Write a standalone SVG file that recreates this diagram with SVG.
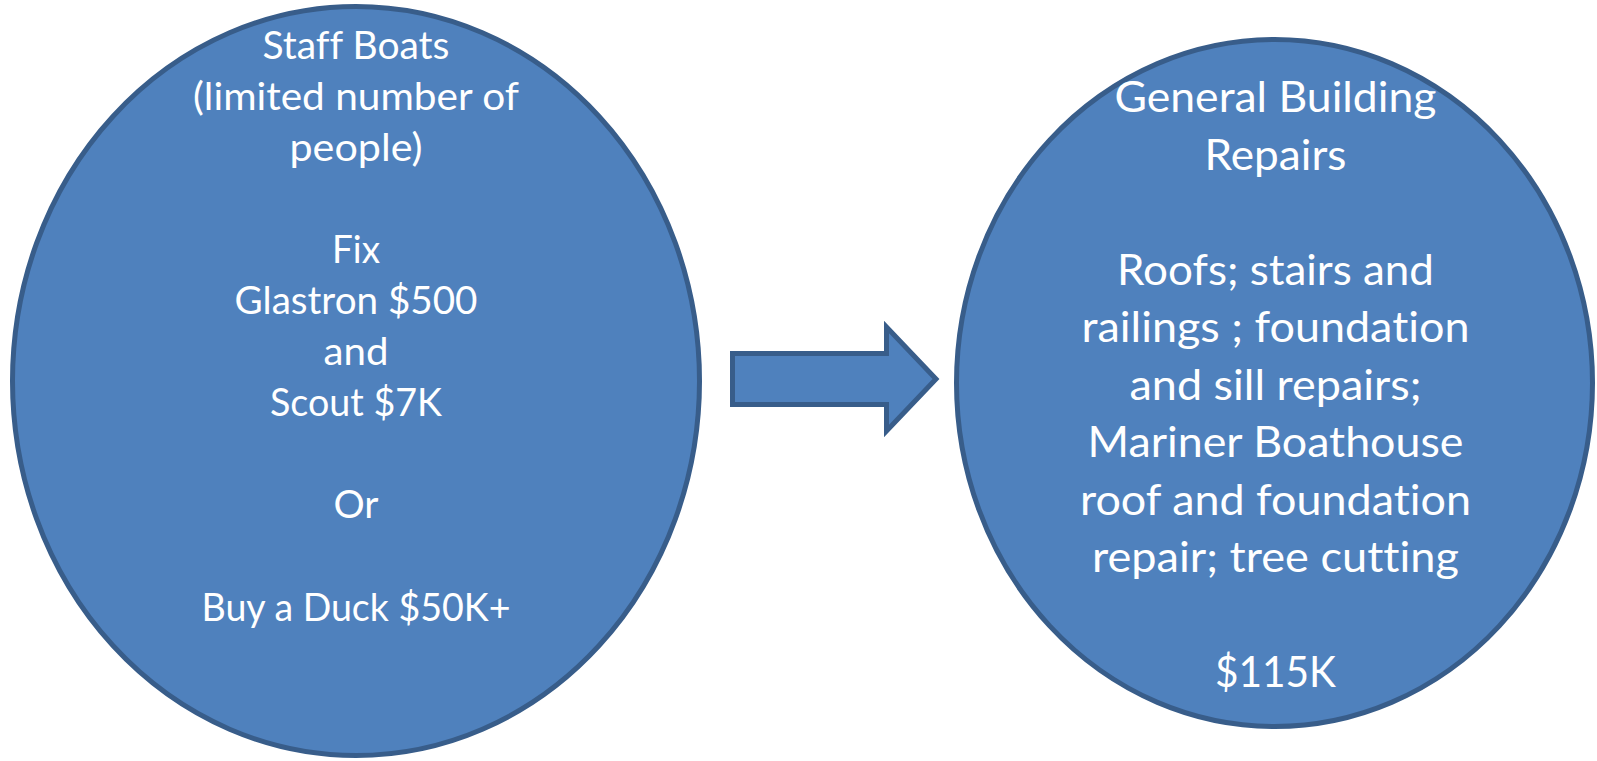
<svg xmlns="http://www.w3.org/2000/svg" width="1597" height="761" viewBox="0 0 1597 761">
<style>
.shape{fill:#4F81BD;stroke:#385D8A;stroke-width:5}
.t{fill:#FFFFFF;font-family:Lato,"Open Sans","Liberation Sans",sans-serif;text-anchor:middle;font-variant-ligatures:none;font-feature-settings:"liga" 0,"dlig" 0}
.s1{font-size:38.5px}
.s2{font-size:43px}
</style>
<rect width="1597" height="761" fill="#FFFFFF"/>
<g id="connectors">
<polygon class="shape" points="732.5,353.5 886.5,353.5 886.5,327 936,379 886.5,431 886.5,404.5 732.5,404.5"/>
</g>
<g id="node-staff-boats">
<ellipse class="shape" cx="356" cy="381" rx="343.5" ry="374.5"/>
<g class="t s1">
<text x="356" y="58.5" textLength="187" lengthAdjust="spacingAndGlyphs">Staff Boats</text>
<text x="356" y="109.6" textLength="326" lengthAdjust="spacingAndGlyphs">(limited number of</text>
<text x="356" y="160.7" textLength="133" lengthAdjust="spacingAndGlyphs">people)</text>
<text x="356" y="262.9" textLength="48" lengthAdjust="spacingAndGlyphs">Fix</text>
<text x="356" y="314" textLength="243" lengthAdjust="spacingAndGlyphs">Glastron $500</text>
<text x="356" y="365.1" textLength="65" lengthAdjust="spacingAndGlyphs">and</text>
<text x="356" y="416.2" textLength="172" lengthAdjust="spacingAndGlyphs">Scout $7K</text>
<text x="356" y="518.4" textLength="45" lengthAdjust="spacingAndGlyphs">Or</text>
<text x="356" y="620.6" textLength="309" lengthAdjust="spacingAndGlyphs">Buy a Duck $50K+</text>
</g>
</g>
<g id="node-general-building-repairs">
<ellipse class="shape" cx="1274.5" cy="383" rx="318" ry="343.5"/>
<g class="t s2">
<text x="1275.5" y="112" textLength="322" lengthAdjust="spacingAndGlyphs">General Building</text>
<text x="1275.5" y="169.5" textLength="142" lengthAdjust="spacingAndGlyphs">Repairs</text>
<text x="1275.5" y="284.5" textLength="317" lengthAdjust="spacingAndGlyphs">Roofs; stairs and</text>
<text x="1275.5" y="342" textLength="388" lengthAdjust="spacingAndGlyphs">railings ; foundation</text>
<text x="1275.5" y="399.5" textLength="292" lengthAdjust="spacingAndGlyphs">and sill repairs;</text>
<text x="1275.5" y="457" textLength="376" lengthAdjust="spacingAndGlyphs">Mariner Boathouse</text>
<text x="1275.5" y="514.5" textLength="391" lengthAdjust="spacingAndGlyphs">roof and foundation</text>
<text x="1275.5" y="572" textLength="367" lengthAdjust="spacingAndGlyphs">repair; tree cutting</text>
<text x="1275.5" y="687" textLength="121" lengthAdjust="spacingAndGlyphs">$115K</text>
</g>
</g>
</svg>
